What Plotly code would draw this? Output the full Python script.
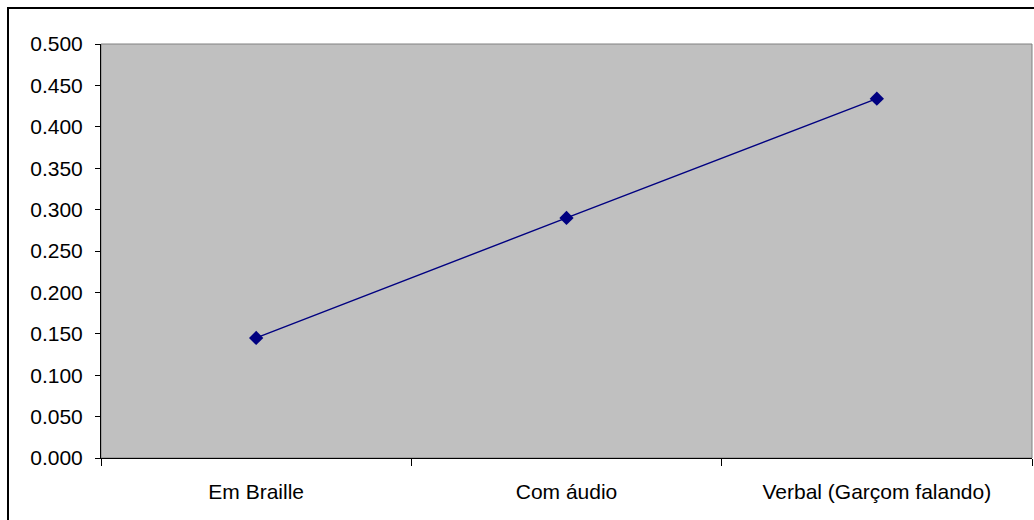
import plotly.graph_objects as go

categories = ["Em Braille", "Com áudio", "Verbal (Garçom falando)"]
values = [0.145, 0.290, 0.434]
y_ticks = [0.0, 0.05, 0.10, 0.15, 0.20, 0.25, 0.30, 0.35, 0.40, 0.45, 0.50]

W, H = 1034, 520
ML, MR, MT, MB = 101, 2, 44, 62
pw, ph = W - ML - MR, H - MT - MB

fig = go.Figure()
fig.add_trace(go.Scatter(
    x=categories, y=values, mode="lines+markers",
    line=dict(color="#000080", width=1.4),
    marker=dict(symbol="diamond", size=11, color="#000080"),
    showlegend=False, cliponaxis=False,
))

# grey frame of the plot area (top and right edges)
fig.add_shape(type="rect", xref="paper", yref="paper", x0=0, x1=1, y0=0, y1=1,
              line=dict(color="#808080", width=1), layer="below")
# outer chart border
fig.add_shape(type="rect", xref="paper", yref="paper",
              x0=(8 - ML) / pw, x1=(W + 10 - ML) / pw,
              y0=-(H + 10 - (H - MB)) / ph, y1=1 + (MT - 8) / ph,
              line=dict(color="black", width=2), layer="above")

font = dict(family="Liberation Sans, Arial, sans-serif", size=21, color="black")

fig.update_layout(
    width=W, height=H,
    margin=dict(l=ML, r=MR, t=MT, b=MB, pad=0),
    paper_bgcolor="white", plot_bgcolor="#c0c0c0",
    font=font,
    xaxis=dict(type="category", range=[-0.5, 2.5], tickson="boundaries",
               ticks="outside", ticklen=7, tickcolor="black", tickwidth=1,
               showline=True, linecolor="black", linewidth=1,
               showgrid=False, zeroline=False, ticklabelstandoff=15,
               tickfont=font),
    yaxis=dict(range=[0, 0.5], tickvals=y_ticks, tickformat=".3f",
               ticks="outside", ticklen=5, tickcolor="black", tickwidth=1,
               showline=True, linecolor="black", linewidth=1,
               showgrid=False, zeroline=False, ticklabelstandoff=8,
               tickfont=font),
)

fig.write_html("out.html")
